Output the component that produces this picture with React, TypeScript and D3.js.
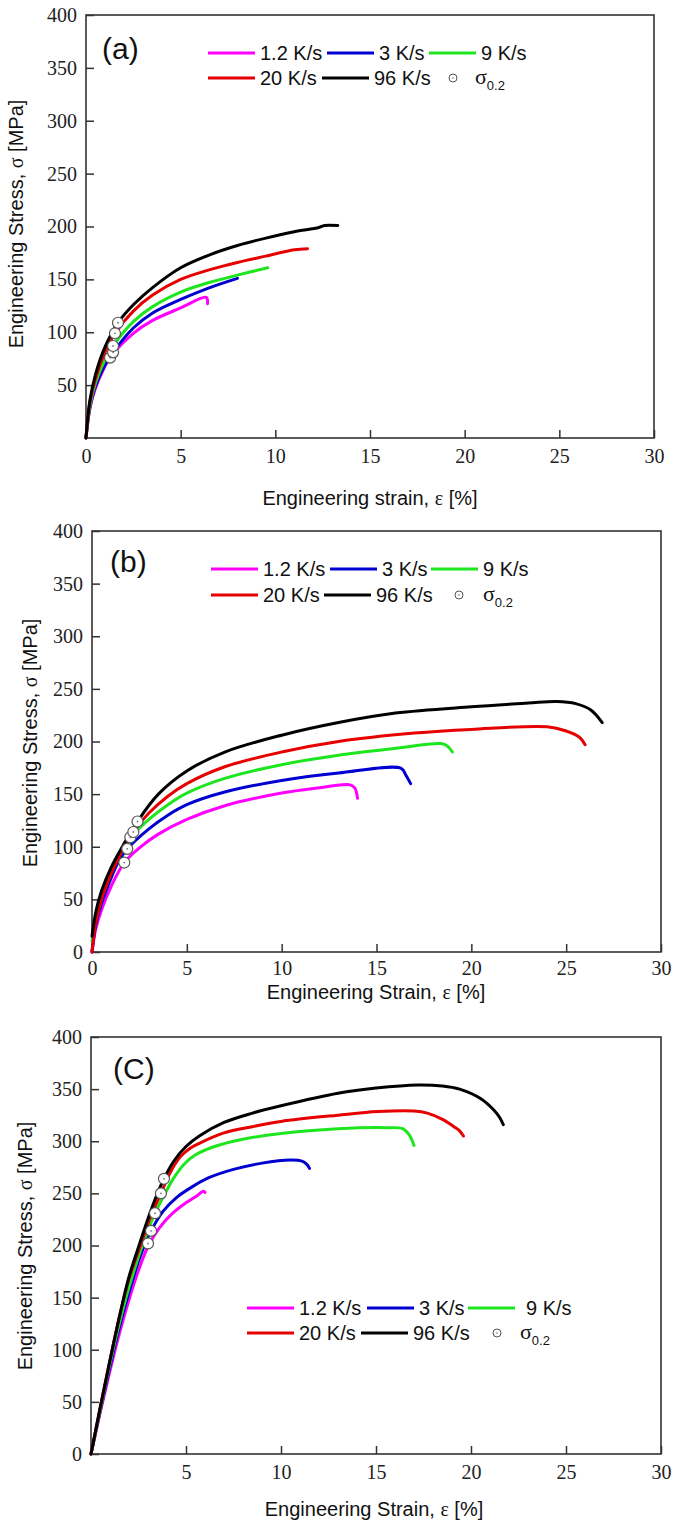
import { useEffect, useRef } from "react";
import * as d3 from "d3";

type Pt = [number, number];

const rates = ["1.2 K/s", "3 K/s", "9 K/s", "20 K/s", "96 K/s"];
const colors = ["#ff00ff", "#0000d0", "#1ee61e", "#e60000", "#000000"];

const strainTicksA = [0, 5, 10, 15, 20, 25, 30];
const strainTicksC = [5, 10, 15, 20, 25, 30];
const stressTicks = [0, 50, 100, 150, 200, 250, 300, 350, 400];
const stressTicksA = [50, 100, 150, 200, 250, 300, 350, 400];

// panel (a): [strain %, stress MPa]
const a1_2: Pt[] = [[0, 0], [0.2, 28], [0.5, 47], [0.9, 64], [1.27, 76], [2.5, 99], [3.5, 111], [5, 123], [6.35, 133], [6.42, 127]];
const a3: Pt[] = [[0, 0], [0.2, 28], [0.5, 49], [1.0, 69], [1.43, 81], [2.5, 104], [3.5, 118], [5, 131], [6.5, 142], [8, 151]];
const a9: Pt[] = [[0, 0], [0.2, 30], [0.5, 52], [1.0, 74], [1.43, 87], [2.5, 110], [3.5, 124], [5, 138], [6.5, 147], [8, 154], [9.6, 161]];
const a20: Pt[] = [[0, 0], [0.2, 33], [0.5, 56], [1.0, 81], [1.53, 99], [2.5, 120], [3.5, 135], [5, 150], [6.5, 159], [8, 166], [9.5, 172], [11, 178], [11.7, 179]];
const a96: Pt[] = [[0, 0], [0.2, 35], [0.5, 60], [1.0, 86], [1.69, 109], [2.5, 126], [3.5, 142], [5, 161], [6.5, 173], [8, 182], [9.5, 189], [11, 195], [12.3, 199], [12.6, 201], [13.3, 201]];
const aYield: Pt[] = [[1.27, 76], [1.43, 81], [1.43, 87], [1.53, 99], [1.69, 109]];

// panel (b)
const b1_2: Pt[] = [[0, 0], [0.2, 22], [0.5, 40], [1.0, 62], [1.7, 85], [2.5, 99], [3.5, 112], [5, 126], [7, 139], [10, 151], [12, 156], [13.55, 159], [13.85, 156], [14, 146]];
const b3: Pt[] = [[0, 0], [0.2, 26], [0.5, 46], [1.0, 70], [1.4, 86], [1.86, 98], [3, 117], [4, 130], [5, 140], [7, 152], [10, 163], [13, 170], [16.3, 174.5], [16.55, 168], [16.8, 160]];
const b9: Pt[] = [[0, 10], [0.2, 32], [0.5, 52], [1.0, 76], [1.5, 94], [2.05, 109], [3, 126], [4, 140], [5, 151], [7, 165], [10, 178], [13, 187], [16, 193.5], [18.4, 198], [18.75, 195.5], [19, 190]];
const b20: Pt[] = [[0, 0], [0.2, 28], [0.5, 50], [1.0, 74], [1.5, 93], [2.18, 114], [3, 132], [4, 148], [5, 160], [7, 176], [10, 190], [13, 200], [17, 208], [20, 211.5], [24, 214], [25, 210], [25.7, 204], [26, 197]];
const b96: Pt[] = [[0, 15], [0.2, 38], [0.5, 58], [1.0, 80], [1.6, 100], [2.4, 124], [3.5, 150], [5, 172], [7, 190], [10, 206], [13, 218], [16, 227], [20, 233], [23, 236.5], [24.5, 238], [25.5, 236], [26.3, 230], [26.9, 218]];
const bYield: Pt[] = [[1.7, 85], [1.86, 98], [2.02, 109], [2.18, 114], [2.4, 124]];

// panel (c)
const c1_2: Pt[] = [[0, 0], [0.5, 41], [1.0, 80], [1.5, 116], [2.0, 148], [2.5, 176], [3.0, 199], [3.6, 217], [4.3, 231], [5.0, 241], [5.6, 248], [5.9, 252], [6.0, 251]];
const c3: Pt[] = [[0, 0], [0.5, 43], [1.0, 84], [1.5, 122], [2.0, 155], [2.6, 190], [3.16, 214], [3.8, 233], [4.5, 246], [5.3, 256], [6.2, 265], [7.5, 273], [9, 279], [10.5, 282], [11.1, 281], [11.35, 278], [11.5, 274]];
const c9: Pt[] = [[0, 0], [0.5, 44], [1.0, 87], [1.5, 126], [2.0, 160], [2.7, 200], [3.37, 231], [3.9, 250], [4.4, 266], [4.9, 278], [5.5, 287], [6.5, 295], [8, 302], [10, 307.5], [13, 312], [15.5, 313], [16.4, 312], [16.75, 306], [17, 296]];
const c20: Pt[] = [[0, 0], [0.5, 46], [1.0, 90], [1.5, 132], [2.0, 168], [2.6, 200], [3.1, 226], [3.68, 250], [4.2, 271], [4.7, 285], [5.2, 293], [5.7, 298], [7, 308], [8.5, 314], [10, 319], [13, 325], [15.1, 328.5], [17, 329], [17.7, 327], [18.5, 321], [19.1, 314], [19.4, 310], [19.6, 305]];
const c96: Pt[] = [[0, 0], [0.5, 46], [1.0, 90], [1.5, 132], [2.0, 170], [2.6, 204], [3.2, 236], [3.84, 264], [4.4, 282], [5.0, 295], [5.7, 305], [7, 318], [8.5, 327], [10, 334], [13, 346], [15, 351], [17.2, 354], [18.5, 353], [19.4, 350], [20.5, 341], [21.2, 330], [21.5, 323], [21.7, 316]];
const cYield: Pt[] = [[3.0, 202], [3.16, 214], [3.37, 231], [3.68, 250], [3.84, 264]];

const SANS = "'Liberation Sans', Arial, sans-serif";
const SERIF = "'Liberation Serif', 'Times New Roman', serif";

const panels = [
  {
    tag: "(a)", left: 86, right: 654, top: 15, bottom: 438,
    curves: [a1_2, a3, a9, a20, a96], yieldPts: aYield,
    xTicks: strainTicksA, yTicks: stressTicksA, xPad: 11,
    xTitle: "Engineering strain, ", xTitleX: 370, xTitleY: 505, yTitleX: 23, yTitleY: 224,
    tagX: 102, tagY: 59,
    leg: { x: 208, y1: 53, y2: 78, cols1: [0, 119, 221], cols2: [0, 114, 245, 267], gap3: 5 },
  },
  {
    tag: "(b)", left: 92, right: 661, top: 531, bottom: 952,
    curves: [b1_2, b3, b9, b20, b96], yieldPts: bYield,
    xTicks: strainTicksA, yTicks: stressTicks, xPad: 9,
    xTitle: "Engineering Strain, ", xTitleX: 376, xTitleY: 999, yTitleX: 37, yTitleY: 743,
    tagX: 110, tagY: 572,
    leg: { x: 211, y1: 569, y2: 595, cols1: [0, 119, 220], cols2: [0, 113, 248, 272], gap3: 5 },
  },
  {
    tag: "(C)", left: 91, right: 661, top: 1037, bottom: 1454,
    curves: [c1_2, c3, c9, c20, c96], yieldPts: cYield,
    xTicks: strainTicksC, yTicks: stressTicks, xPad: 11,
    xTitle: "Engineering Strain, ", xTitleX: 374, xTitleY: 1516, yTitleX: 32, yTitleY: 1246,
    tagX: 113, tagY: 1079,
    leg: { x: 247, y1: 1308, y2: 1333, cols1: [0, 120, 221], cols2: [0, 114, 250, 273], gap3: 11 },
  },
];

function Panel({ p }: { p: (typeof panels)[number] }) {
  const xRef = useRef<SVGGElement>(null);
  const yRef = useRef<SVGGElement>(null);

  const x = d3.scaleLinear().domain([0, 30]).range([p.left, p.right]);
  const y = d3.scaleLinear().domain([0, 400]).range([p.bottom, p.top]);

  useEffect(() => {
    const gx = d3.select(xRef.current!);
    gx.attr("transform", `translate(0,${p.bottom})`)
      .call(d3.axisBottom(x).tickValues(p.xTicks).tickSizeInner(-8).tickSizeOuter(0).tickPadding(p.xPad));
    gx.select(".domain").remove();

    const gy = d3.select(yRef.current!);
    gy.attr("transform", `translate(${p.left},0)`)
      .call(d3.axisLeft(y).tickValues(p.yTicks).tickSizeInner(-8).tickSizeOuter(0).tickPadding(9));
    gy.select(".domain").remove();

    [gx, gy].forEach(g => {
      g.attr("font-family", SERIF).attr("font-size", 20);
      g.selectAll("line").attr("stroke", "#333").attr("stroke-width", 1.5);
      g.selectAll("text").attr("fill", "#222");
    });
  }, []);

  const line = d3.line<Pt>()
    .x(d => x(d[0]))
    .y(d => y(d[1]))
    .curve(d3.curveCatmullRom.alpha(0.5));

  const L = p.leg;
  const lineLen = 47;

  return (
    <g>
      <rect x={p.left} y={p.top} width={p.right - p.left} height={p.bottom - p.top}
        fill="none" stroke="#333" strokeWidth={1.6} />
      <g ref={xRef} />
      <g ref={yRef} />

      {p.curves.map((c, i) => (
        <path key={i} d={line(c) ?? ""} fill="none" stroke={colors[i]} strokeWidth={3}
          strokeLinecap="round" strokeLinejoin="round" />
      ))}
      {p.yieldPts.map((d, i) => (
        <g key={i}>
          <circle cx={x(d[0])} cy={y(d[1])} r={5.5} fill="#fff" stroke="#555" strokeWidth={1.2} />
          <circle cx={x(d[0])} cy={y(d[1])} r={0.9} fill="#777" />
        </g>
      ))}

      <text x={p.tagX} y={p.tagY} fontFamily={SANS} fontSize={30} fill="#111">{p.tag}</text>

      {/* legend */}
      <g fontFamily={SANS} fontSize={20} fill="#111">
        {[0, 1, 2].map((s, k) => {
          const lx = L.x + L.cols1[k];
          const gap = k === 2 ? L.gap3 : 5;
          return (
            <g key={s}>
              <line x1={lx} x2={lx + lineLen} y1={L.y1} y2={L.y1} stroke={colors[s]} strokeWidth={3} />
              <text x={lx + lineLen + gap} y={L.y1 + 7}>{rates[s]}</text>
            </g>
          );
        })}
        {[3, 4].map((s, k) => {
          const lx = L.x + L.cols2[k];
          return (
            <g key={s}>
              <line x1={lx} x2={lx + lineLen} y1={L.y2} y2={L.y2} stroke={colors[s]} strokeWidth={3} />
              <text x={lx + lineLen + 5} y={L.y2 + 7}>{rates[s]}</text>
            </g>
          );
        })}
        <circle cx={L.x + L.cols2[2]} cy={L.y2} r={4} fill="#fff" stroke="#555" strokeWidth={1} />
        <circle cx={L.x + L.cols2[2]} cy={L.y2} r={0.8} fill="#777" />
        <text x={L.x + L.cols2[3]} y={L.y2 + 6}>
          <tspan fontFamily={SERIF} fontSize={22}>σ</tspan>
          <tspan fontSize={13} dy={6}>0.2</tspan>
        </text>
      </g>

      {/* axis titles */}
      <text x={p.xTitleX} y={p.xTitleY} textAnchor="middle" fontFamily={SANS} fontSize={20} fill="#111">
        {p.xTitle}<tspan fontFamily={SERIF}>ε</tspan> [%]
      </text>
      <text transform={`translate(${p.yTitleX},${p.yTitleY}) rotate(-90)`} textAnchor="middle"
        fontFamily={SANS} fontSize={20} fill="#111">
        Engineering Stress, <tspan fontFamily={SERIF}>σ</tspan> [MPa]
      </text>
    </g>
  );
}

export default function App() {
  return (
    <svg width={675} height={1530} viewBox="0 0 675 1530"
      style={{ position: "absolute", left: 0, top: 0, background: "#fff" }}>
      {panels.map(p => <Panel key={p.tag} p={p} />)}
    </svg>
  );
}
